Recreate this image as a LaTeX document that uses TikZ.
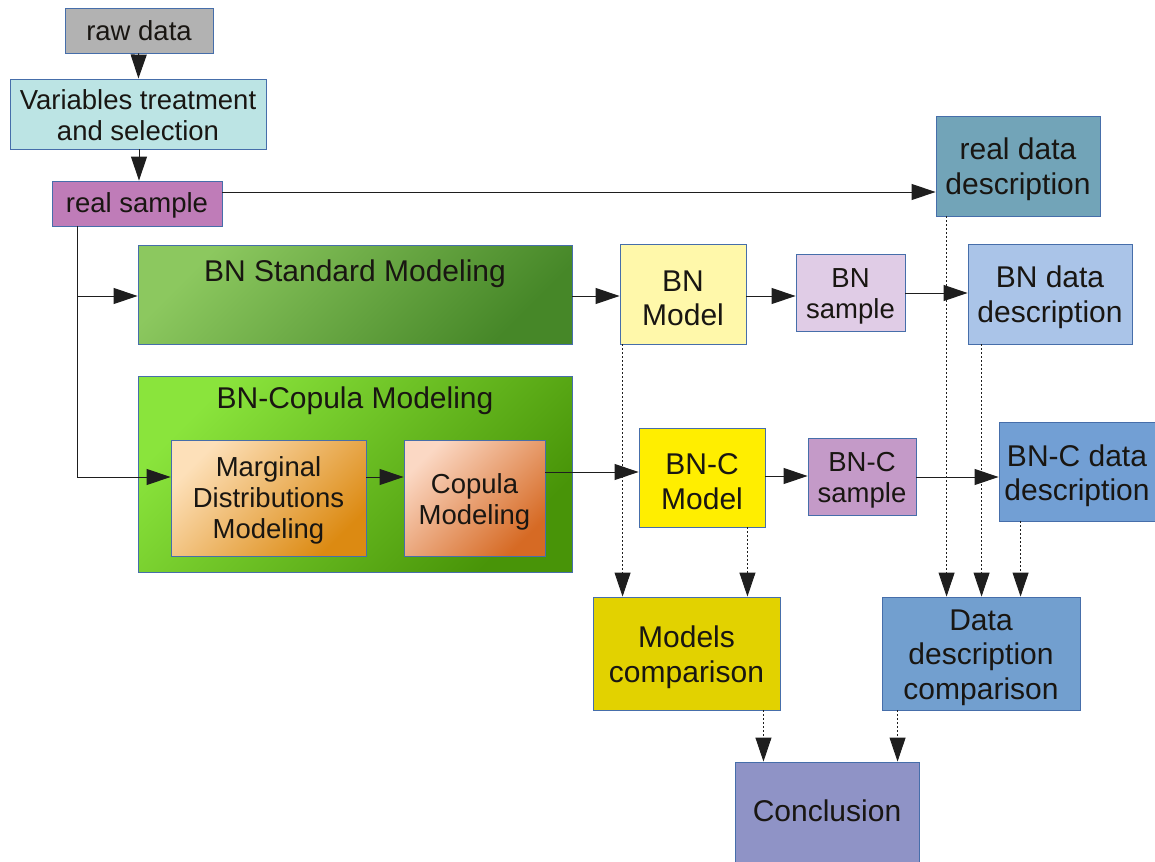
\documentclass[tikz,border=0pt]{standalone}
\usepackage{fontspec}
\setmainfont{Liberation Sans}
\usetikzlibrary{arrows.meta,calc}
\definecolor{bordc}{RGB}{70,110,170}
\definecolor{txt}{RGB}{25,22,18}
\definecolor{linec}{RGB}{30,30,30}
\definecolor{cRaw}{RGB}{178,178,178}
\definecolor{cVar}{RGB}{188,228,228}
\definecolor{cReal}{RGB}{191,124,184}
\definecolor{cRdd}{RGB}{114,164,184}
\definecolor{cBnm}{RGB}{255,248,170}
\definecolor{cBnsam}{RGB}{224,204,230}
\definecolor{cBndd}{RGB}{170,196,232}
\definecolor{cBncm}{RGB}{255,238,0}
\definecolor{cBncs}{RGB}{196,154,200}
\definecolor{cBncdd}{RGB}{114,159,212}
\definecolor{cMc}{RGB}{226,210,0}
\definecolor{cDdc}{RGB}{114,159,207}
\definecolor{cConc}{RGB}{143,147,198}
\definecolor{gStdA}{RGB}{140,200,95}
\definecolor{gStdB}{RGB}{70,135,40}
\definecolor{gCopA}{RGB}{138,228,60}
\definecolor{gCopB}{RGB}{72,148,8}
\definecolor{gMarA}{RGB}{253,224,185}
\definecolor{gMarB}{RGB}{220,138,18}
\definecolor{gCpA}{RGB}{251,216,196}
\definecolor{gCpB}{RGB}{214,106,36}
\newcommand\TS[1][7pt]{\rule{0pt}{\dimexpr0.73em+#1\relax}}
\begin{document}
\begin{tikzpicture}[x=1pt,y=-1pt,
  txtnode/.style={align=center, text=txt, inner sep=0pt},
  box/.style={txtnode, draw=bordc, line width=0.9pt},
  sm/.style={font=\fontsize{27.5}{31}\selectfont},
  bg/.style={font=\fontsize{30}{34.5}\selectfont},
  arr/.style={-{Triangle[length=24pt,width=16pt]}, line width=1pt, draw=linec},
  dotarr/.style={-{Triangle[length=24pt,width=16pt]}, line width=0.9pt, draw=linec, dash pattern=on 1.5pt off 2.5pt},
  diag/.style 2 args={top color=#1, bottom color=#2, shading angle=45}]
\useasboundingbox (0,0) rectangle (1155,861);

% top column
\node[box,sm,fill=cRaw,minimum width=148pt,minimum height=45pt] (raw) at (139,30.5) {raw data};
\node[box,sm,fill=cVar,minimum width=256pt,minimum height=70pt] (var) at (138,114) {\TS[3pt]Variables treatment\\and selection};
\node[box,sm,fill=cReal,minimum width=170pt,minimum height=45pt] (real) at (137,203.5) {\TS[4pt]real sample};
\node[box,bg,fill=cRdd,minimum width=164pt,minimum height=100pt] (rdd) at (1018,166) {\TS[6pt]real data\\description};

% BN standard row
\node[box,diag={gStdA}{gStdB},minimum width=434pt,minimum height=99pt] (bns) at (355,294.5) {};
\node[txtnode,bg] (bnstitle) at (355,274) {BN Standard Modeling};
\node[box,bg,fill=cBnm,minimum width=126pt,minimum height=100pt] (bnm) at (683,294) {\TS BN\\Model};
\node[box,sm,fill=cBnsam,minimum width=109pt,minimum height=77pt] (bnsam) at (850.5,292.5) {\TS BN\\sample};
\node[box,bg,fill=cBndd,minimum width=164pt,minimum height=100pt] (bndd) at (1050,294) {\TS[6pt]BN data\\description};

% BN-Copula row
\node[box,diag={gCopA}{gCopB},minimum width=434pt,minimum height=196pt] (bnc) at (355,474) {};
\node[txtnode,bg] (bnctitle) at (355,401) {BN-Copula Modeling};
\node[box,sm,diag={gMarA}{gMarB},minimum width=195pt,minimum height=116pt] (marg) at (268.5,498) {\TS[5pt]Marginal\\Distributions\\Modeling};
\node[box,sm,diag={gCpA}{gCpB},minimum width=141pt,minimum height=116pt] (cop) at (474.5,498) {\TS Copula\\Modeling};
\node[box,bg,fill=cBncm,minimum width=126pt,minimum height=99pt] (bncm) at (702,477.5) {\TS BN-C\\Model};
\node[box,sm,fill=cBncs,minimum width=108pt,minimum height=77pt] (bncs) at (862,476.5) {\TS BN-C\\sample};
\node[box,bg,fill=cBncdd,minimum width=156pt,minimum height=99pt] (bncdd) at (1077,471.5) {\TS[8pt]BN-C data\\description};

% comparisons
\node[box,bg,fill=cMc,minimum width=187pt,minimum height=113pt] (mc) at (686.5,653.5) {\TS Models\\comparison};
\node[box,bg,fill=cDdc,minimum width=198pt,minimum height=113pt] (ddc) at (981,653.5) {\TS Data\\description\\comparison};
\node[box,bg,fill=cConc,minimum width=184pt,minimum height=110pt] (conc) at (827,817) {};
\node[txtnode,bg] (conctext) at (827,811) {Conclusion};

% solid connectors
\draw[arr] (raw) -- (var);
\draw[arr] (var.south -| raw) -- (real.north -| raw);
\draw[arr] ([yshift=11.5pt]real.east) -- ([yshift=11.5pt]real.east -| rdd.west);
\coordinate (trunk) at ([xshift=26pt]real.south west);
\draw[arr] (trunk) |- ([yshift=-1.5pt]bns.west);
\draw[arr] (trunk) |- ([yshift=21pt]marg.west);
\draw[arr] ([yshift=-1.5pt]bns.east) -- ([yshift=-1.5pt]bns.east -| bnm.west);
\draw[arr] ([yshift=-2pt]bnm.east) -- ([yshift=-2pt]bnm.east -| bnsam.west);
\draw[arr] ([yshift=-0.5pt]bnsam.east) -- ([yshift=-0.5pt]bnsam.east -| bndd.west);
\draw[arr] ([yshift=21pt]marg.east) -- ([yshift=21pt]cop.west);
\draw[arr] ([yshift=26pt]cop.east) -- ([yshift=26pt]cop.east -| bncm.west);
\draw[arr] ([yshift=1.5pt]bncm.east) -- ([yshift=1.5pt]bncm.east -| bncs.west);
\draw[arr] ([yshift=-0.5pt]bncs.east) -- ([yshift=-0.5pt]bncs.east -| bncdd.west);

% dotted connectors
\draw[dotarr] ([xshift=3pt]bnm.south west) -- ([xshift=3pt]bnm.south west |- mc.north);
\draw[dotarr] ([xshift=-18pt]bncm.south east) -- ([xshift=-18pt]bncm.south east |- mc.north);
\draw[dotarr] ([xshift=11pt]rdd.south west) -- ([xshift=11pt]rdd.south west |- ddc.north);
\draw[dotarr] ([xshift=14pt]bndd.south west) -- ([xshift=14pt]bndd.south west |- ddc.north);
\draw[dotarr] ([xshift=22pt]bncdd.south west) -- ([xshift=22pt]bncdd.south west |- ddc.north);
\draw[dotarr] ([xshift=-17pt]mc.south east) -- ([xshift=-17pt]mc.south east |- conc.north);
\draw[dotarr] ([xshift=16pt]ddc.south west) -- ([xshift=16pt]ddc.south west |- conc.north);
\end{tikzpicture}
\end{document}
